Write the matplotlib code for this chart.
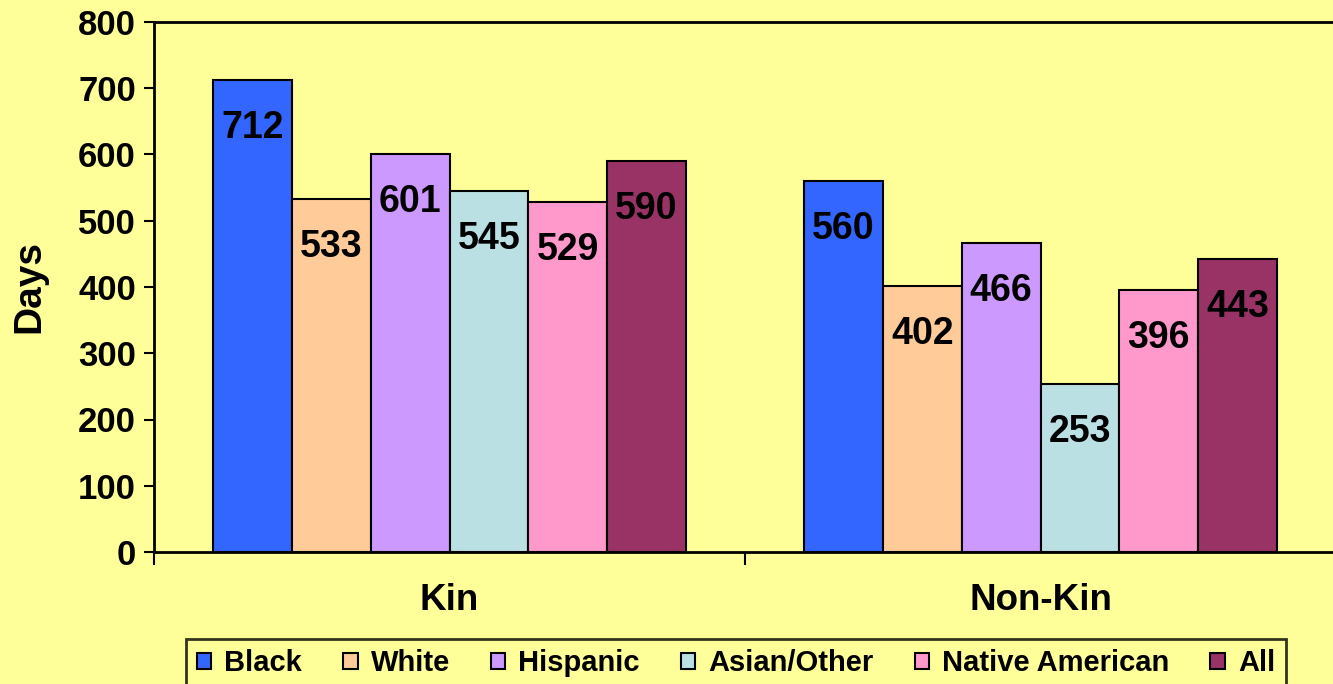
import matplotlib.pyplot as plt
import numpy as np

plt.rcParams['font.family'] = ['Liberation Sans', 'DejaVu Sans']
plt.rcParams['font.weight'] = 'bold'

groups = ["Kin", "Non-Kin"]
series = ["Black", "White", "Hispanic", "Asian/Other", "Native American", "All"]
values = {
    "Black": [712, 560],
    "White": [533, 402],
    "Hispanic": [601, 466],
    "Asian/Other": [545, 253],
    "Native American": [529, 396],
    "All": [590, 443],
}
colors = ["#3366FF", "#FFCC99", "#CC99FF", "#BBE0E3", "#FF99CC", "#993366"]
bg = "#FFFF99"


def main():
    fig = plt.figure(figsize=(13.33, 6.84), dpi=100, facecolor=bg)
    ax = fig.add_axes([154 / 1333, 1 - 552 / 684, 1182 / 1333, 530 / 684])
    ax.set_facecolor(bg)

    x = np.arange(len(groups))
    width = 0.8 / len(series)
    for i, name in enumerate(series):
        pos = x - 0.4 + width * (i + 0.5)
        bars = ax.bar(pos, values[name], width, color=colors[i],
                      edgecolor="black", linewidth=1.5, label=name, zorder=2)
        for b, v in zip(bars, values[name]):
            ax.annotate(str(v), (b.get_x() + b.get_width() / 2, v),
                        xytext=(0, -48), textcoords="offset pixels",
                        ha="center", va="center", fontsize=27,
                        fontweight="bold")

    ax.set_xlim(-0.5, len(groups) - 0.5)
    ax.set_ylim(0, 800)
    ax.set_yticks(range(0, 801, 100))
    ax.tick_params(axis="y", labelsize=25, length=7, width=1.5, pad=6)
    # category ticks sit on the group boundaries
    ax.set_xticks(x)
    ax.set_xticklabels(groups, fontsize=26.5, fontweight="bold")
    ax.tick_params(axis="x", length=0, pad=22)
    ax.set_xticks([-0.5, 0.5, 1.5], minor=True)
    ax.tick_params(axis="x", which="minor", length=9, width=1.5)
    ax.set_ylabel("Days", fontsize=28, fontweight="bold", labelpad=22)
    for s in ax.spines.values():
        s.set_linewidth(2)

    leg = fig.legend(loc="upper center", bbox_to_anchor=(736 / 1333, 1 - 639 / 684),
                     ncol=6, fontsize=21, frameon=True, fancybox=False,
                     edgecolor="black", facecolor=bg, handlelength=0.5,
                     handleheight=0.5, handletextpad=0.45, columnspacing=1.4,
                     borderpad=0.35, borderaxespad=0)
    leg.get_frame().set_linewidth(2)

    fig.savefig("out.png", dpi=100, facecolor=bg)


if __name__ == "__main__":
    main()
